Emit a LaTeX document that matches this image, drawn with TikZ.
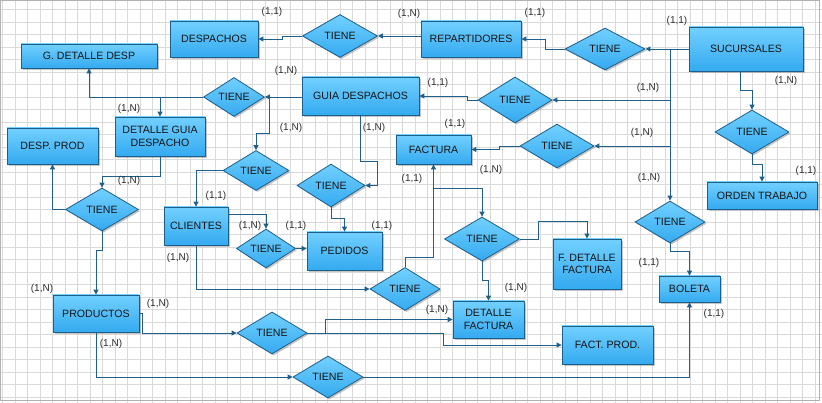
\documentclass[tikz,border=0pt]{standalone}
\usepackage{fontspec}
\setmainfont{Liberation Sans}
\usetikzlibrary{shapes.geometric,arrows.meta,shadows,calc}
\definecolor{topc}{HTML}{72D0FF}
\definecolor{botc}{HTML}{34AAF0}
\definecolor{bordc}{HTML}{1E5E8A}
\definecolor{linec}{HTML}{215F8B}
\definecolor{gridc}{HTML}{DADADA}
\definecolor{txtc}{HTML}{151515}
\tikzset{
  ent/.style={rectangle, draw=bordc, line width=0.8pt, top color=topc, bottom color=botc,
    font=\fontsize{10.6}{12.4}\selectfont, text=txtc, align=center, inner sep=0pt,
    drop shadow={shadow xshift=1.6pt, shadow yshift=-1.6pt, fill=black!45, opacity=0.5}},
  rel/.style={diamond, draw=bordc, line width=0.8pt, top color=topc, bottom color=botc,
    font=\fontsize{10.6}{12.4}\selectfont, text=txtc, inner sep=0pt,
    drop shadow={shadow xshift=1.6pt, shadow yshift=-1.6pt, fill=black!45, opacity=0.5}},
  conn/.style={draw=linec, line width=0.9pt, -{Triangle[length=5pt,width=5pt]}},
  card/.style={font=\fontsize{10}{12}\selectfont, text=txtc!90, inner sep=0pt}
}
\begin{document}
\begin{tikzpicture}[x=1pt,y=-1pt]
\useasboundingbox (0,0) rectangle (822,403);
% grid
\foreach \i in {0,...,65} {\draw[gridc, line width=0.7pt] (2.5+12.5*\i,0) -- (2.5+12.5*\i,403);}
\foreach \j in {0,...,32} {\draw[gridc, line width=0.7pt] (0,9.8+12.5*\j) -- (822,9.8+12.5*\j);}
\draw[black!30, line width=0.8pt] (0.5,0.8) rectangle (819,400);

% entities
\node[ent, minimum width=136pt, minimum height=24pt] (gdd) at (89,56) {G. DETALLE DESP};
\node[ent, minimum width=88pt, minimum height=36pt] (desp) at (214,39) {DESPACHOS};
\node[ent, minimum width=100pt, minimum height=36pt] (rep) at (471,39) {REPARTIDORES};
\node[ent, minimum width=114pt, minimum height=44pt] (suc) at (746,49) {SUCURSALES};
\node[ent, minimum width=117pt, minimum height=38pt] (guia) at (360.5,96) {GUIA DESPACHOS};
\node[ent, minimum width=90pt, minimum height=39pt] (dgd) at (160,136.5) {DETALLE GUIA\\DESPACHO};
\node[ent, minimum width=91pt, minimum height=36pt] (dprod) at (52.5,146) {DESP. PROD};
\node[ent, minimum width=75pt, minimum height=29pt] (fact) at (433.5,149.5) {FACTURA};
\node[ent, minimum width=110pt, minimum height=27pt] (ot) at (762,195.5) {ORDEN TRABAJO};
\node[ent, minimum width=64pt, minimum height=38pt] (cli) at (196,226) {CLIENTES};
\node[ent, minimum width=75pt, minimum height=38pt] (ped) at (344.5,251) {PEDIDOS};
\node[ent, minimum width=68pt, minimum height=50pt] (fdf) at (587,264) {F. DETALLE\\FACTURA};
\node[ent, minimum width=61pt, minimum height=26pt] (bol) at (689.5,289) {BOLETA};
\node[ent, minimum width=86pt, minimum height=37pt] (prod) at (96,313.5) {PRODUCTOS};
\node[ent, minimum width=71pt, minimum height=37pt] (dfact) at (488.5,319.5) {DETALLE\\FACTURA};
\node[ent, minimum width=91pt, minimum height=38pt] (fprod) at (607.5,345) {FACT. PROD.};

% relationships
\node[rel, minimum width=75pt, minimum height=43pt] (t1) at (340,36) {TIENE};
\node[rel, minimum width=80pt, minimum height=42pt] (t2) at (605,49) {TIENE};
\node[rel, minimum width=61pt, minimum height=39pt] (t3) at (234,97) {TIENE};
\node[rel, minimum width=74pt, minimum height=46pt] (t4) at (515,100) {TIENE};
\node[rel, minimum width=74pt, minimum height=44pt] (t5) at (557,146) {TIENE};
\node[rel, minimum width=74pt, minimum height=44pt] (t6) at (752,132) {TIENE};
\node[rel, minimum width=70pt, minimum height=42pt] (t7) at (670,222) {TIENE};
\node[rel, minimum width=73pt, minimum height=43pt] (t8) at (102,209.5) {TIENE};
\node[rel, minimum width=66pt, minimum height=40pt] (t9) at (256,170.5) {TIENE};
\node[rel, minimum width=68pt, minimum height=43pt] (t10) at (331,185.5) {TIENE};
\node[rel, minimum width=59pt, minimum height=39pt] (t11) at (266,248.5) {TIENE};
\node[rel, minimum width=75pt, minimum height=44pt] (t12) at (482,239) {TIENE};
\node[rel, minimum width=70pt, minimum height=43pt] (t13) at (405,289) {TIENE};
\node[rel, minimum width=70pt, minimum height=42pt] (t14) at (272,333) {TIENE};
\node[rel, minimum width=70pt, minimum height=42pt] (t15) at (328,377) {TIENE};

% connectors
\coordinate (trunk) at ($(suc.west)+(-19,0)$);
\draw[conn] (t1.east -| rep.west) -- (t1.east);
\draw[conn] (t1.west) -- ++(-20,0) |- (desp.east);
\draw[conn] (suc.west) -| (t7.north);
\draw[conn] (trunk |- t2.east) -- (t2.east);
\draw[conn] (trunk |- t4.east) -- (t4.east);
\draw[conn] (trunk |- t5.east) -- (t5.east);
\draw[conn] (t2.west) -- ++(-19,0) |- (rep.east);
\draw[conn] ([xshift=-6pt]suc.south) -- ++(0,19) -| (t6.north);
\draw[conn] (t6.south) -- ++(0,10) -| (ot.north);
\draw[conn] (t4.west) -- ++(-10,0) |- (guia.east);
\draw[conn] (t3.east -| guia.west) -- (t3.east);
\draw[conn] (t3.west) -| (gdd.south);
\draw[conn] (dgd.north |- t3.west) -- (dgd.north);
\draw[conn] ([xshift=5pt]t3.east) -- ++(0,36) -| (t9.north);
\draw[conn] (dgd.south) -- ++(0,20) -| (t8.north);
\draw[conn] (t8.west) -| (dprod.south);
\draw[conn] (t8.south) -- ++(0,19) -| (prod.north);
\draw[conn] (t9.west) -| (cli.north);
\draw[conn] (guia.south) -- ++(0,46) -| ([xshift=12pt]t10.east) -- (t10.east);
\draw[conn] (t10.south) -- ++(0,11) -| (ped.north);
\draw[conn] ([yshift=12pt]cli.east) -| (t11.north);
\draw[conn] (t11.east) -- (t11.east -| ped.west);
\draw[conn] (cli.south) |- (t13.west);
\draw[conn] (t13.north) -- ++(0,-10) -| (fact.south);
\draw[conn] ([yshift=-24pt]fact.south) -| (t12.north);
\draw[conn] (t12.east) -- ++(19,0) -- ++(0,-18) -| (fdf.north);
\draw[conn] (t12.south) -- ++(0,19) -| (dfact.north);
\draw[conn] (prod.east) -- ++(3,0) |- (t14.west);
\draw[conn] (t14.east) -- ++(136,0) |- (fprod.west);
\draw[conn] ([xshift=18pt]t14.east) |- (dfact.west);
\draw[conn] (prod.south) |- (t15.west);
\draw[conn] (t15.east) -| (bol.south);
\draw[conn] (t7.south) -- ++(0,8) -| (bol.north);
\draw[conn] (t5.west) -- ++(-20,0) |- (fact.east);

% cardinalities
\node[card] (c1) at (272,12) {(1,1)};
\node[card] (c2) at (409,14) {(1,N)};
\node[card] (c3) at (535,13) {(1,1)};
\node[card] (c4) at (677,21) {(1,1)};
\node[card] (c5) at (786,81) {(1,N)};
\node[card] (c6) at (286,71) {(1,N)};
\node[card] (c7) at (438,83) {(1,1)};
\node[card] (c8) at (648,88) {(1,N)};
\node[card] (c9) at (129,109) {(1,N)};
\node[card] (c10) at (291,128) {(1,N)};
\node[card] (c11) at (374,128) {(1,N)};
\node[card] (c12) at (455,124) {(1,1)};
\node[card] (c13) at (642,133) {(1,N)};
\node[card] (c14) at (806,171) {(1,1)};
\node[card] (c15) at (129,181) {(1,N)};
\node[card] (c16) at (412,179) {(1,1)};
\node[card] (c17) at (491,170) {(1,N)};
\node[card] (c18) at (649,178) {(1,N)};
\node[card] (c19) at (216,196) {(1,1)};
\node[card] (c20) at (250,226) {(1,N)};
\node[card] (c21) at (296,226) {(1,1)};
\node[card] (c22) at (382,226) {(1,1)};
\node[card] (c23) at (178,258) {(1,N)};
\node[card] (c24) at (649,263) {(1,1)};
\node[card] (c25) at (516,288) {(1,N)};
\node[card] (c26) at (42,289) {(1,N)};
\node[card] (c27) at (158,304) {(1,N)};
\node[card] (c28) at (437,310) {(1,N)};
\node[card] (c29) at (714,314) {(1,1)};
\node[card] (c30) at (111,344) {(1,N)};
\end{tikzpicture}
\end{document}
